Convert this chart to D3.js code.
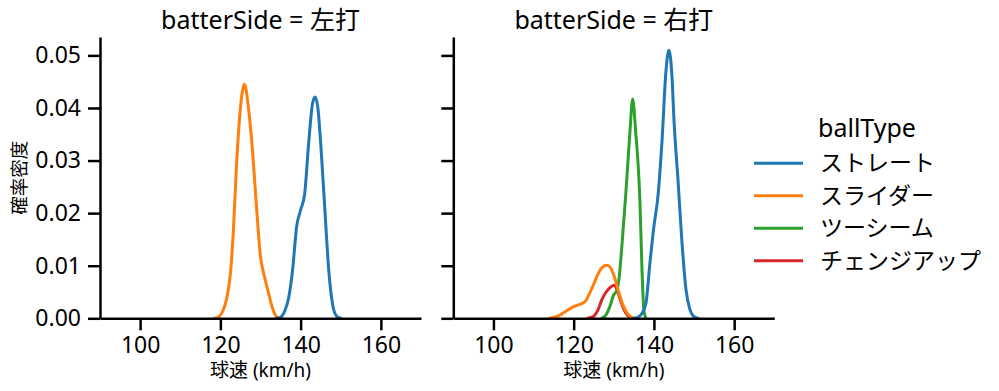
<!DOCTYPE html>
<html><head><meta charset="utf-8">
<script src="https://cdn.jsdelivr.net/npm/d3@7"></script>
<style>
html,body{margin:0;padding:0;background:#fff;}
text{font-family:"Noto Sans","Noto Sans CJK JP",sans-serif;fill:#000;}
</style></head>
<body><svg id="chart" width="999" height="391"></svg>
<script>
// ---- data ----
const panels = ["左打", "右打"];
const ballTypes = ["ストレート", "スライダー", "ツーシーム", "チェンジアップ"];
const colors = ["#1f77b4", "#ff7f0e", "#2ca02c", "#d62728"];
const xTicks = [100, 120, 140, 160];
const yTicks = [0, 0.01, 0.02, 0.03, 0.04, 0.05];

// 左打
const leftStraightX = [134, 135, 136, 137, 138, 139, 140, 141, 142, 143, 143.6, 144.3, 145, 146, 147, 148, 149, 150];
const leftStraightY = [0, 0.0002, 0.0013, 0.0038, 0.0092, 0.0174, 0.0206, 0.0236, 0.0333, 0.041, 0.0421, 0.040, 0.0333, 0.0212, 0.0092, 0.0025, 0.0004, 0];
const leftSliderX = [118.5, 119.5, 120.5, 121.5, 122.5, 123.2, 124, 125, 126, 127, 128, 129, 130, 131, 132, 133, 134, 134.8];
const leftSliderY = [0, 0.0002, 0.0012, 0.0035, 0.0085, 0.016, 0.0288, 0.040, 0.0445, 0.040, 0.032, 0.0212, 0.0117, 0.0079, 0.0048, 0.0019, 0.0003, 0];

// 右打
const rightStraightX = [135, 136, 137, 138, 139, 140, 141, 142, 143, 143.7, 144.5, 145, 146, 147, 148, 149, 150, 151];
const rightStraightY = [0, 0.0002, 0.0009, 0.0028, 0.0105, 0.0175, 0.0232, 0.0335, 0.047, 0.051, 0.046, 0.0377, 0.0263, 0.0143, 0.0054, 0.0016, 0.0003, 0];
const rightSliderX = [114, 115, 116, 117, 118, 119, 120, 121, 122, 123, 124, 125, 126, 127, 128.2, 129, 130, 131, 132, 133, 134, 135];
const rightSliderY = [0, 0.0002, 0.0004, 0.0008, 0.0013, 0.0018, 0.0022, 0.0025, 0.0028, 0.0033, 0.0048, 0.0065, 0.0083, 0.0096, 0.0101, 0.0098, 0.0082, 0.0056, 0.0031, 0.0014, 0.0004, 0];
const rightTwoSeamX = [127, 128, 129, 130, 130.7, 131.3, 132, 133, 134, 134.7, 135.5, 136, 136.5, 137, 137.5, 138];
const rightTwoSeamY = [0, 0.0006, 0.0022, 0.0045, 0.0052, 0.0075, 0.0136, 0.0238, 0.0352, 0.0417, 0.035, 0.030, 0.0225, 0.0098, 0.0015, 0];
const rightChangeX = [123.5, 124, 125, 126, 127, 128, 129, 130, 130.8, 131.5, 132, 133, 134, 134.5];
const rightChangeY = [0, 0.0001, 0.0004, 0.0015, 0.0035, 0.0049, 0.0058, 0.0063, 0.0055, 0.0038, 0.0027, 0.001, 0.0001, 0];

const panelSeries = [
  [[leftStraightX, leftStraightY], [leftSliderX, leftSliderY], null, null],
  [[rightStraightX, rightStraightY], [rightSliderX, rightSliderY], [rightTwoSeamX, rightTwoSeamY], [rightChangeX, rightChangeY]]
];

// ---- drawing ----
const svg = d3.select("#chart");
const plotTop = 37, plotBottom = 318.3;
const panelLeft = [100, 453.3];
const panelW = 321;
const y = d3.scaleLinear().domain([0, 0.0535]).range([plotBottom, plotTop]);
const tickFont = 23;
const fontFam = "'Noto Sans','Noto Sans CJK JP',sans-serif";

panels.forEach((p, pi) => {
  const x0 = panelLeft[pi];
  const x = d3.scaleLinear().domain([90, 170]).range([x0, x0 + panelW]);
  const g = svg.append("g");

  // curves: seaborn draws hue levels in reverse order
  const line = d3.line().x(d => x(d[0])).y(d => y(d[1])).curve(d3.curveMonotoneX);
  for (let k = ballTypes.length - 1; k >= 0; k--) {
    const s = panelSeries[pi][k];
    if (!s) continue;
    const pts = s[0].map((v, i) => [v, s[1][i]]);
    g.append("path").attr("d", line(pts)).attr("fill", "none")
      .attr("stroke", colors[k]).attr("stroke-width", 3).attr("stroke-linejoin", "round").attr("stroke-linecap", "round");
  }

  // axes
  const xa = g.append("g").attr("transform", `translate(0,${plotBottom})`)
    .call(d3.axisBottom(x).tickValues(xTicks).tickSize(12).tickSizeOuter(0).tickPadding(6).tickFormat(d3.format("d")));
  const ya = g.append("g").attr("transform", `translate(${x0},0)`)
    .call(d3.axisLeft(y).tickValues(yTicks).tickSize(12).tickSizeOuter(0).tickPadding(7)
      .tickFormat(pi === 0 ? d3.format(".2f") : () => ""));
  [xa, ya].forEach(a => {
    a.select(".domain").attr("stroke", "#000").attr("stroke-width", 2.5);
    a.selectAll(".tick line").attr("stroke", "#000").attr("stroke-width", 2.5);
    a.selectAll(".tick text").attr("font-size", tickFont).attr("fill", "#000")
      .attr("font-family", fontFam);
  });

  // title
  g.append("text").attr("x", x0 + panelW / 2).attr("y", 29).attr("text-anchor", "middle")
    .attr("font-size", 25).text(`batterSide = ${p}`);
  // x label
  g.append("text").attr("x", x0 + panelW / 2).attr("y", 377).attr("text-anchor", "middle")
    .attr("font-size", 19).text("球速 (km/h)");
  if (pi === 0) {
    g.append("text").attr("transform", `translate(26,${(plotTop + plotBottom) / 2}) rotate(-90)`)
      .attr("text-anchor", "middle").attr("font-size", 18.5).text("確率密度");
  }
});

// legend
const lg = svg.append("g");
lg.append("text").attr("x", 867).attr("y", 137).attr("text-anchor", "middle").attr("font-size", 25).text("ballType");
ballTypes.forEach((b, i) => {
  const yy = 163.3 + i * 32.5;
  lg.append("line").attr("x1", 754).attr("x2", 803).attr("y1", yy).attr("y2", yy)
    .attr("stroke", colors[i]).attr("stroke-width", 3);
  lg.append("text").attr("x", 820).attr("y", yy + 8).attr("font-size", tickFont).text(b);
});
</script>
</body></html>
